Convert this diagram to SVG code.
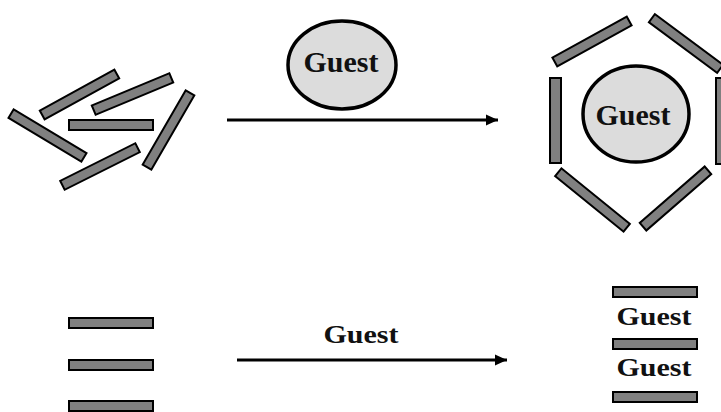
<svg xmlns="http://www.w3.org/2000/svg" width="721" height="412" viewBox="0 0 721 412">
  <style>
    .bar { fill: #808080; stroke: #000; stroke-width: 2; }
    .guest { fill: #dcdcdc; stroke: #000; stroke-width: 3.5; }
    .lbl { font-family: "Liberation Serif", "Times New Roman", serif; font-weight: bold; fill: #111; text-anchor: middle; }
    .conn { stroke: #000; stroke-width: 3; fill: none; }
  </style>
  <defs>
    <marker id="arrow" markerUnits="userSpaceOnUse" markerWidth="14" markerHeight="12" refX="12" refY="6" orient="auto">
      <polygon points="0,0.5 12,6 0,11.5" fill="#000"/>
    </marker>
  </defs>
  <rect width="721" height="412" fill="#fff"/>

  <g id="scattered-hosts">
    <rect class="bar" x="-42.5" y="-5" width="85" height="10" transform="translate(47.5,135.5) rotate(31)"/>
    <rect class="bar" x="-42.5" y="-5" width="85" height="10" transform="translate(79.5,94.5) rotate(-28.7)"/>
    <rect class="bar" x="-42" y="-5" width="84" height="10" transform="translate(132.5,94) rotate(-22.6)"/>
    <rect class="bar" x="-43" y="-5" width="86" height="10" transform="translate(168.5,130) rotate(-60)"/>
    <rect class="bar" x="-42" y="-5" width="84" height="10" transform="translate(100,166.5) rotate(-26.6)"/>
    <rect class="bar" x="69" y="120" width="84" height="10"/>
  </g>

  <g id="guest-top">
    <ellipse class="guest" cx="342" cy="65" rx="54" ry="44"/>
    <text class="lbl" x="341" y="72" font-size="29" textLength="75" lengthAdjust="spacingAndGlyphs">Guest</text>
  </g>

  <g id="host-guest-ring">
    <rect class="bar" x="-42.5" y="-5" width="85" height="10" transform="translate(592,41.5) rotate(-29)"/>
    <rect class="bar" x="-42.5" y="-5" width="85" height="10" transform="translate(686,43.5) rotate(36.6)"/>
    <rect class="bar" x="550" y="78" width="11" height="85"/>
    <rect class="bar" x="716" y="78" width="11" height="86"/>
    <rect class="bar" x="-44" y="-5" width="88" height="10" transform="translate(592.5,200) rotate(39)"/>
    <rect class="bar" x="-43" y="-5" width="86" height="10" transform="translate(675.5,198.5) rotate(-41)"/>
    <ellipse class="guest" cx="636" cy="114" rx="53" ry="48"/>
    <text class="lbl" x="633" y="125" font-size="29" textLength="75" lengthAdjust="spacingAndGlyphs">Guest</text>
  </g>

  <g id="stacked-hosts">
    <rect class="bar" x="69" y="318" width="84" height="10"/>
    <rect class="bar" x="69" y="360" width="84" height="10"/>
    <rect class="bar" x="69" y="401" width="84" height="10"/>
  </g>

  <g id="intercalated">
    <rect class="bar" x="613" y="287" width="84" height="10"/>
    <text class="lbl" x="654" y="325" font-size="26" textLength="75" lengthAdjust="spacingAndGlyphs">Guest</text>
    <rect class="bar" x="613" y="339" width="84" height="10"/>
    <text class="lbl" x="654" y="376" font-size="26" textLength="75" lengthAdjust="spacingAndGlyphs">Guest</text>
    <rect class="bar" x="613" y="392" width="84" height="10"/>
  </g>

  <g id="connectors">
    <line class="conn" x1="227" y1="120" x2="498" y2="120" marker-end="url(#arrow)"/>
    <line class="conn" x1="237" y1="360" x2="507" y2="360" marker-end="url(#arrow)"/>
    <text class="lbl" x="361" y="343" font-size="26" textLength="75" lengthAdjust="spacingAndGlyphs">Guest</text>
  </g>
</svg>
